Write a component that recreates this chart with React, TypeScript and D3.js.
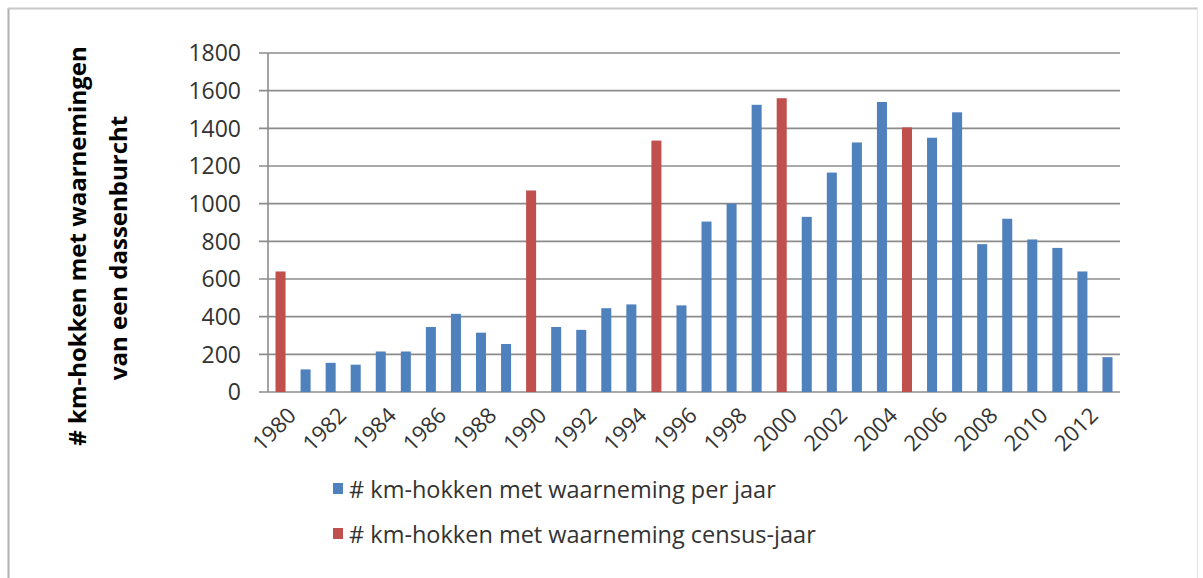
import React from "react";
import * as d3 from "d3";

const years: number[] = d3.range(1980, 2014);
const values: number[] = [
  640, 120, 155, 145, 215, 215, 345, 415, 315, 255,
  1070, 345, 330, 445, 465, 1335, 460, 905, 1000, 1525,
  1560, 930, 1165, 1325, 1540, 1405, 1350, 1485, 785, 920,
  810, 765, 640, 185,
];
const censusYears: number[] = [1980, 1990, 1995, 2000, 2005];
const yTicks: number[] = [0, 200, 400, 600, 800, 1000, 1200, 1400, 1600, 1800];
const legendLabels: string[] = [
  "# km-hokken met waarneming per jaar",
  "# km-hokken met waarneming census-jaar",
];
const titleLines: string[] = ["# km-hokken met waarnemingen", "van een dassenburcht"];

const W = 1203;
const H = 578;
const margem = { top: 53, bottom: 186, left: 268, right: 83 };
const blauw = "#4F81BD";
const rood = "#C0504D";
const font = "'Open Sans', Lato, sans-serif";

export default function App() {
  const x = d3
    .scaleBand<number>()
    .domain(years)
    .range([margem.left, W - margem.right])
    .paddingInner(0.6)
    .paddingOuter(0.3);

  const y = d3
    .scaleLinear()
    .domain([0, 1800])
    .range([H - margem.bottom, margem.top]);

  const kleur = (jaar: number) => (censusYears.includes(jaar) ? rood : blauw);
  const xLabels = years.filter((j) => (j - 1980) % 2 === 0);
  const y0 = y(0);

  return (
    <svg width={W} height={H} style={{ position: "absolute", left: 0, top: 0, background: "#fff" }}>
      {/* frame */}
      <line x1={8.5} x2={8.5} y1={8} y2={H} stroke="#b0b0b0" strokeWidth={2} />
      <line x1={8} x2={1198} y1={8.5} y2={8.5} stroke="#c8c8c8" strokeWidth={2} />
      <line x1={1197.5} x2={1197.5} y1={8} y2={H} stroke="#e4e4e4" strokeWidth={1} />

      {/* gridlines + y ticks */}
      <g>
        {yTicks.map((t) => (
          <g key={t}>
            <line
              x1={margem.left - 9}
              x2={W - margem.right}
              y1={y(t)}
              y2={y(t)}
              stroke="#8c8c8c"
              strokeWidth={1.6}
            />
            <text
              x={241}
              y={y(t)}
              dy="0.36em"
              textAnchor="end"
              fontFamily={font}
              fontSize={23}
              fill="#333"
            >
              {t}
            </text>
          </g>
        ))}
        <line x1={margem.left} x2={margem.left} y1={margem.top} y2={y0} stroke="#8c8c8c" strokeWidth={1.6} />
      </g>

      {/* bars */}
      <g>
        {years.map((j, i) => (
          <rect
            key={j}
            x={x(j) ?? 0}
            y={y(values[i])}
            width={x.bandwidth()}
            height={y0 - y(values[i])}
            fill={kleur(j)}
          />
        ))}
      </g>

      {/* x labels */}
      <g>
        {xLabels.map((j) => {
          const cx = (x(j) ?? 0) + x.bandwidth() / 2 + 6;
          return (
            <text
              key={j}
              transform={`translate(${cx}, ${y0 + 14}) rotate(-45)`}
              textAnchor="end"
              dy="0.7em"
              fontFamily={font}
              fontSize={22}
              fill="#333"
            >
              {j}
            </text>
          );
        })}
      </g>

      {/* y title */}
      <g fontFamily={font} fontWeight="bold" fontSize={24} fill="#000">
        <text transform="translate(86, 246) rotate(-90)" textAnchor="middle">
          {titleLines[0]}
        </text>
        <text transform="translate(127, 248) rotate(-90)" textAnchor="middle">
          {titleLines[1]}
        </text>
      </g>

      {/* legend */}
      <g fontFamily={font} fontSize={23.5} fill="#333">
        {legendLabels.map((l, i) => (
          <g key={l} transform={`translate(333, ${490 + i * 45})`}>
            <rect x={0} y={-7} width={10} height={11} fill={i === 0 ? blauw : rood} />
            <text x={16} y={0} dy="0.35em">
              {l}
            </text>
          </g>
        ))}
      </g>
    </svg>
  );
}
